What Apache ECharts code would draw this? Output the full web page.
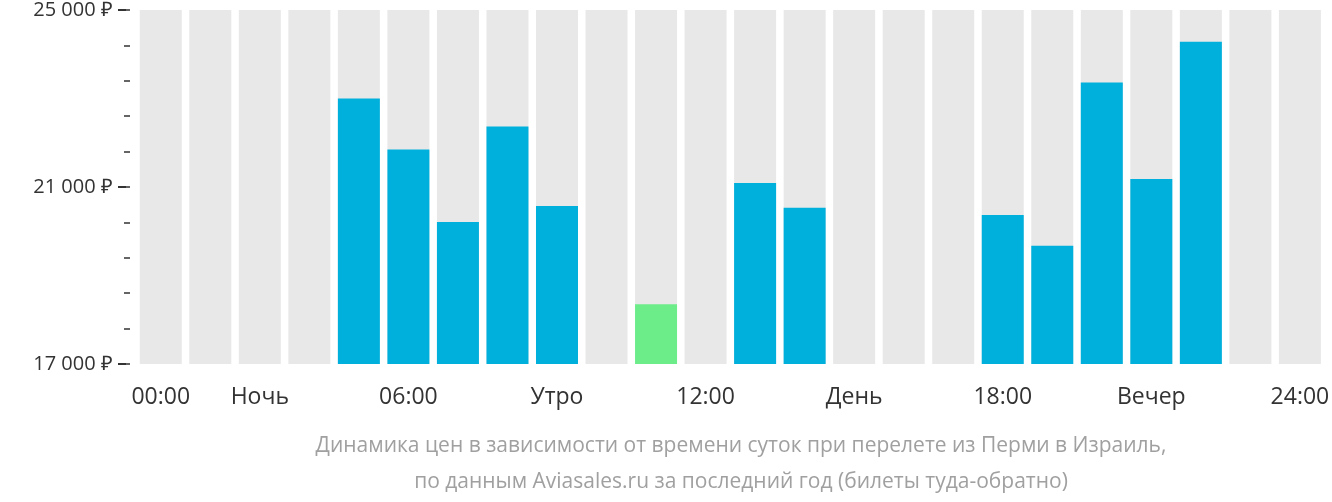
<!DOCTYPE html>
<html><head><meta charset="utf-8">
<script src="https://cdn.jsdelivr.net/npm/echarts@6/dist/echarts.min.js"></script>
<style>html,body{margin:0;padding:0;background:#fff}#c{width:1332px;height:502px}</style>
</head><body><div id="c"></div>
<script>
const categories = Array.from({length:24},(_,i)=>String(i));
const xLabels = {0:'00:00',2:'Ночь',5:'06:00',8:'Утро',11:'12:00',14:'День',17:'18:00',20:'Вечер',23:'24:00'};
const prices = [null,null,null,null,23000,21850,20210,22370,20570,null,18350,null,21090,20530,null,null,null,20370,19670,23360,21180,24280,null,null];
const cheapestIndex = 10;
const yTicks = [17000,21000,25000];
const subtitle = ['Динамика цен в зависимости от времени суток при перелете из Перми в Израиль,','по данным Aviasales.ru за последний год (билеты туда-обратно)'];

const chart = echarts.init(document.getElementById('c'));
chart.setOption({
  animation:false,
  textStyle:{fontFamily:'Open Sans'},
  grid:{left:136,width:1200,top:8,bottom:138},
  title:{text:subtitle.join('\n'),left:736,top:423,textAlign:'center',
    textStyle:{color:'#a0a0a0',fontSize:21,fontWeight:'normal',lineHeight:36,fontFamily:'Open Sans'}},
  xAxis:{type:'category',data:categories,axisLine:{show:false},axisTick:{show:false},
    axisLabel:{interval:0,margin:22,fontSize:23,color:'#333',
      formatter:(v,i)=>xLabels[i]||''}},
  yAxis:{type:'value',min:17000,max:25000,interval:800,offset:6,splitLine:{show:false},
    axisLine:{show:false},axisTick:{show:true,length:6,lineStyle:{color:'#333',width:1.5}},
    axisLabel:{margin:4,fontSize:20,color:'#333',
      formatter:v=>yTicks.includes(v)?(String(v).replace(/(\d{2})(\d{3})$/,'$1 $2')+' ₽ {d|}'):'',
      rich:{d:{width:8,height:2,backgroundColor:'#333'}}}},
  series:[
    {type:'bar',data:categories.map(()=>25000),barWidth:42,barGap:'-100%',silent:true,
     itemStyle:{color:'#e8e8e8'}},
    {type:'bar',barWidth:42,data:prices.map((v,i)=>v==null?null:{value:v,itemStyle:{color:i===cheapestIndex?'#6ced8a':'#00b0dc'}})}
  ]
});
</script></body></html>
